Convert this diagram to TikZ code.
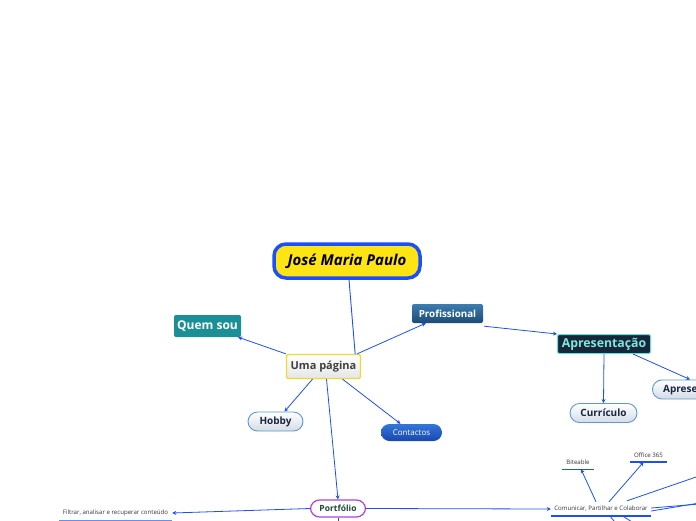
\documentclass[tikz,border=0pt]{standalone}
\usepackage{fontspec}
\setmainfont{Open Sans}
\usetikzlibrary{arrows.meta}
\definecolor{linkblue}{HTML}{1E4EF5}
\definecolor{rootblue}{HTML}{1A4FFF}
\definecolor{rootyellow}{HTML}{FFE414}
\definecolor{teal}{HTML}{1B8F96}
\definecolor{navy}{HTML}{18263A}
\definecolor{cyanline}{HTML}{62DEDE}
\definecolor{pillline}{HTML}{5A9AD0}
\definecolor{pilltext}{HTML}{1A2540}
\definecolor{purple}{HTML}{B040E0}
\definecolor{darkgreen}{HTML}{1E4A38}
\begin{document}
\begin{tikzpicture}[x=1pt,y=-1pt,
  link/.style={draw=linkblue,line width=0.8pt,-{Stealth[length=4pt,width=4pt]}},
  trunk/.style={draw=linkblue,line width=0.9pt},
  rootbox/.style={draw=rootblue,line width=3.5pt,fill=rootyellow,rounded corners=12pt,
    minimum width=146pt,minimum height=34pt,inner sep=0pt,
    font=\fontsize{15}{17}\selectfont\bfseries\itshape},
  mainbox/.style={draw={rgb,255:red,240;green,216;blue,48},line width=1.3pt,rounded corners=2pt,
    top color=white,bottom color=black!10,minimum width=74pt,minimum height=24pt,inner sep=0pt,
    text=black!75,font=\fontsize{11}{13}\selectfont\bfseries},
  tealbox/.style={fill=teal,rounded corners=2pt,minimum width=67pt,minimum height=22pt,inner sep=0pt,
    text=white,font=\fontsize{12}{14}\selectfont\bfseries},
  profbox/.style={top color={rgb,255:red,60;green,125;blue,175},bottom color={rgb,255:red,28;green,75;blue,118},
    rounded corners=2pt,minimum width=71pt,minimum height=19pt,inner sep=0pt,
    text=white,font=\fontsize{9.8}{11}\selectfont\bfseries},
  navybox/.style={fill=navy,draw=cyanline,line width=1pt,rounded corners=2pt,
    minimum width=93pt,minimum height=19pt,inner sep=0pt,
    text={rgb,255:red,125;green,232;blue,224},font=\fontsize{12.3}{14}\selectfont\bfseries},
  pill/.style={draw=pillline,line width=0.9pt,rounded corners=9.5pt,top color=white,
    bottom color={rgb,255:red,212;green,220;blue,230},minimum height=19pt,inner sep=0pt,
    text=pilltext,font=\fontsize{10}{12}\selectfont\bfseries},
  bluepill/.style={top color={rgb,255:red,52;green,118;blue,215},bottom color={rgb,255:red,24;green,72;blue,175},
    rounded corners=8.5pt,minimum width=61pt,minimum height=17pt,inner sep=0pt,
    text=white,font=\fontsize{8}{10}\selectfont},
  purplepill/.style={draw=purple,line width=1.2pt,fill=white,rounded corners=9pt,
    minimum width=55pt,minimum height=17pt,inner sep=0pt,
    text=darkgreen,font=\fontsize{8.5}{10}\selectfont\bfseries},
  leaf/.style={inner sep=0pt,minimum height=14pt,text=black!80,font=\fontsize{6.1}{7}\selectfont}]

\useasboundingbox (0,0) rectangle (696,520);
\clip (0,0) rectangle (696,520);

\node[rootbox] (root) at (347,261) {José Maria Paulo};
\node[mainbox] (uma) at (323.5,366.5) {Uma página};
\node[tealbox] (quem) at (207.5,326) {Quem sou};
\node[profbox] (prof) at (447.5,313.5) {Profissional};
\node[navybox] (apres) at (604,344) {Apresentação};
\node[pill,minimum width=67pt] (curr) at (603.5,413) {Currículo};
\node[pill,minimum width=90pt,anchor=north west] (apres2) at (652,379.5) {Apresentação};
\node[pill,minimum width=55pt] (hobby) at (275.5,421.5) {Hobby};
\node[bluepill] (cont) at (411.5,432.5) {Contactos};
\node[purplepill] (port) at (338,508.5) {Portfólio};
\node[leaf,minimum width=113pt] (filt) at (115.5,513) {Filtrar, analisar e recuperar conteúdo};
\node[leaf,minimum width=100pt] (com) at (601,509) {Comunicar, Partilhar e Colaborar};
\node[leaf,minimum width=32pt] (bite) at (578,462) {Biteable};
\node[leaf,minimum width=37pt] (office) at (648.5,455) {Office 365};

\draw[draw={rgb,255:red,100;green,145;blue,240},line width=0.9pt] (filt.south west) -- (filt.south east);
\draw[draw=linkblue,line width=2pt] (com.south west) -- (com.south east);
\draw[draw=linkblue,line width=1.2pt] (bite.south west) -- (bite.south east);
\draw[draw=linkblue,line width=2pt] (office.south west) -- (office.south east);

\coordinate (c1) at (760,455);
\coordinate (c2) at (760,493);
\coordinate (c3) at (760,499);
\coordinate (c4) at (630,540);
\coordinate (c5) at (660,540);
\coordinate (c6) at (338,540);

\draw[trunk] ([xshift=2pt]root.south) -- ([xshift=-6pt]uma.north east);
\draw[link] (uma.north west) -- ([xshift=-3pt]quem.south east);
\draw[link] ([xshift=-4pt]uma.north east) -- ([xshift=14pt]prof.south west);
\draw[link] ([xshift=1pt,yshift=-3pt]prof.south east) -- (apres.north west);
\draw[link] (apres.south) -- (curr.north);
\draw[link] ([xshift=29pt]apres.south) -- ([xshift=38pt]apres2.north west);
\draw[link] ([xshift=-11pt]uma.south) -- ([xshift=9pt]hobby.north);
\draw[link] ([xshift=19pt]uma.south) -- ([xshift=-11pt]cont.north);
\draw[link] ([xshift=3pt]uma.south) -- (port.north);
\draw[link] (port.west) -- (filt.east);
\draw[link] (port.east) -- (com.west);
\draw[link] ([xshift=-5pt]com.north) -- ([xshift=3pt]bite.south);
\draw[link] ([xshift=8pt]com.north) -- ([xshift=-5pt]office.south);
\draw[link] ([xshift=26pt,yshift=1pt]com.north) -- (c1);
\draw[link] ([yshift=-2pt]com.east) -- (c2);
\draw[link] ([yshift=1pt]com.east) -- (c3);
\draw[link] ([xshift=9pt]com.south) -- (c4);
\draw[link] ([xshift=22pt]com.south) -- (c5);
\draw[link] (port.south) -- (c6);
\end{tikzpicture}
\end{document}
